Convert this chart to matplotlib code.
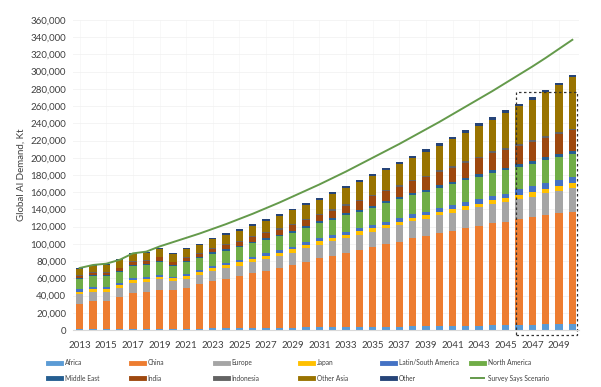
import matplotlib
matplotlib.use("Agg")
import matplotlib.pyplot as plt
import numpy as np
from matplotlib.patches import Rectangle
from matplotlib.lines import Line2D

plt.rcParams['font.family'] = ['Lato', 'DejaVu Sans']

years = list(range(2013, 2051))

# values in thousand kt
africa = [1.0,1.0,1.0,1.1,1.1,1.2,1.2,1.3,1.5,1.7,1.9,2.0,2.2,2.4,2.5,2.7,2.8,3.0,3.1,3.3,3.4,3.5,3.7,3.8,4.0,4.2,4.4,4.6,4.8,5.0,5.2,5.4,5.6,6.0,6.3,6.6,6.8,7.0]
china = [29.2,32.5,33.0,36.9,41.5,42.6,45.3,45.0,47.8,51.3,55.1,57.6,60.1,63.4,66.4,69.3,72.2,76.3,80.1,83.0,86.4,89.4,92.3,95.7,98.6,102.3,104.6,107.7,110.2,113.0,115.6,118.6,120.2,122.5,124.6,127.0,128.7,130.4]
europe = [11.2,11.0,10.5,10.5,12.4,12.0,12.4,10.7,10.5,11.0,11.5,12.0,12.5,13.0,13.5,14.0,14.8,15.5,16.0,16.5,17.0,17.6,18.2,18.8,19.4,19.8,20.2,20.7,21.1,21.6,22.1,22.6,23.0,23.2,24.0,25.0,26.0,27.0]
japan = [3.1,3.2,3.2,3.3,3.3,3.2,3.1,3.0,3.2,3.3,3.4,3.5,3.6,3.7,3.8,3.9,4.0,4.2,4.0,4.0,3.9,3.9,3.8,3.8,3.8,3.8,3.8,3.9,3.9,4.0,4.0,4.0,4.0,5.0,5.2,5.4,5.6,5.8]
latin_south_america = [2.7,2.6,2.6,2.5,2.4,2.2,2.0,1.5,2.0,2.2,2.4,2.5,2.6,2.7,2.8,2.9,3.0,3.0,3.1,3.2,3.3,3.5,3.6,3.8,3.9,4.1,4.3,4.6,4.8,5.0,5.2,5.5,5.7,7.0,7.0,7.0,7.0,7.0]
north_america = [11.7,12.0,12.0,12.8,13.5,14.0,15.4,12.8,13.5,14.0,14.3,14.6,15.0,15.3,15.6,16.0,16.3,16.7,17.5,18.2,19.0,19.7,20.5,21.2,22.0,22.6,23.2,23.9,24.5,25.1,25.8,26.4,27.0,25.3,25.9,26.5,27.1,27.7]
middle_east = [1.2,1.2,1.2,1.2,1.2,1.2,1.2,1.2,1.3,1.4,1.5,1.6,1.7,1.8,1.9,2.0,2.1,2.3,2.3,2.3,2.3,2.3,2.3,2.3,2.3,2.4,2.5,2.6,2.7,2.8,2.9,3.0,3.0,3.4,3.4,3.4,3.3,3.3]
india = [2.9,3.0,3.0,3.2,3.5,3.7,3.9,3.0,3.5,3.9,4.3,4.6,5.0,5.3,5.6,5.9,6.2,6.5,7.3,8.1,8.9,9.8,10.7,11.5,12.4,13.4,14.4,15.4,16.4,17.4,18.6,19.8,21.0,21.0,21.7,22.4,23.0,23.7]
indonesia = [0.8,0.8,0.8,0.8,0.8,0.8,0.8,0.8,0.9,1.0,1.0,1.1,1.1,1.2,1.2,1.3,1.3,1.4,1.5,1.5,1.6,1.6,1.7,1.7,1.8,1.8,1.9,1.9,2.0,2.0,2.0,2.0,2.0,2.4,2.3,2.2,2.1,2.0]
other_asia = [6.5,6.5,8.0,8.5,8.1,8.9,8.7,8.4,9.4,8.7,10.0,11.3,11.4,12.3,13.7,14.9,16.1,16.7,16.2,17.9,18.7,20.1,22.1,22.7,24.1,25.3,27.9,28.8,31.2,33.1,35.6,36.7,40.5,44.2,46.7,50.7,54.7,59.6]
other = [1.2,1.2,1.2,1.2,1.2,1.2,1.3,1.3,1.4,1.5,1.6,1.7,1.8,1.9,2.0,2.1,2.2,2.4,2.4,2.5,2.5,2.6,2.6,2.7,2.7,2.8,2.8,2.9,2.9,3.0,3.0,3.0,3.0,3.0,2.9,2.8,2.7,2.5]
survey_says = [72,75.5,77,81.5,89,91,97,102,107,112,117.5,123,129,135,141.5,148,155,162,169,176.5,184,192,200,208,216,224.5,233,241.5,250.5,259.5,268.5,277.5,287,296.5,306,316,326.5,337]

series = [
    ("Africa", africa, "#5B9BD5"),
    ("China", china, "#ED7D31"),
    ("Europe", europe, "#A5A5A5"),
    ("Japan", japan, "#FFC000"),
    ("Latin/South America", latin_south_america, "#4472C4"),
    ("North America", north_america, "#70AD47"),
    ("Middle East", middle_east, "#255E91"),
    ("India", india, "#9E480E"),
    ("Indonesia", indonesia, "#636363"),
    ("Other Asia", other_asia, "#997300"),
    ("Other", other, "#264478"),
]

fig = plt.figure(figsize=(6.01, 3.87), dpi=100)
ax = fig.add_axes([73/601, 1 - 330/387, (579-73)/601, 310/387])

x = np.array(years)
bottom = np.zeros(len(years))
handles = []
for name, vals, col in series:
    v = np.array(vals) * 1000
    ax.bar(x, v, width=0.55, bottom=bottom, color=col, linewidth=0)
    bottom += v
    handles.append(Line2D([0], [0], color=col, lw=3.5, label=name))

line_col = "#649A4B"
ax.plot(x, np.array(survey_says) * 1000, color=line_col, lw=1.4)
handles.append(Line2D([0], [0], color=line_col, lw=1.4, label="Survey Says Scenario"))

ax.set_xlim(2012.5, 2050.5)
ax.set_ylim(0, 360000)
ax.set_yticks(np.arange(0, 360001, 20000))
ax.set_yticklabels([f"{v:,}" for v in range(0, 360001, 20000)])
ax.set_xticks(list(range(2013, 2050, 2)))
ax.tick_params(axis='y', length=0, labelsize=7, colors="#404040", pad=5)
ax.tick_params(axis='x', length=0, labelsize=7, colors="#404040", pad=8)
for s in ["top", "right", "left"]:
    ax.spines[s].set_visible(False)
ax.spines["bottom"].set_color("#D9D9D9")
ax.grid(axis='y', color="#F2F2F2", lw=0.6)
ax.grid(axis='x', color="#F5F5F5", lw=0.5)
ax.set_axisbelow(True)
ax.set_ylabel("Global Al Demand, Kt", fontsize=7, color="#404040", labelpad=3)

rect = Rectangle((2045.75, -6000), 4.6, 282000, fill=False, ls=(0, (2, 2)), lw=0.9,
                 edgecolor="#333333", clip_on=False)
ax.add_patch(rect)

# legend: 6 columns x 2 rows, row-major like the original
ncol = 6
col_x = [48, 131, 215, 300, 382, 471]
for c in range(ncol):
    hs = [handles[c], handles[c + ncol]]
    fig.legend(handles=hs, loc="upper left", bbox_to_anchor=(col_x[c]/601, 1 - 359/387),
               frameon=False, fontsize=4.8, handlelength=2.0, handletextpad=0.5,
               labelcolor="#404040", borderpad=0, borderaxespad=0, labelspacing=1.3)

fig.savefig("out.png", dpi=100)
